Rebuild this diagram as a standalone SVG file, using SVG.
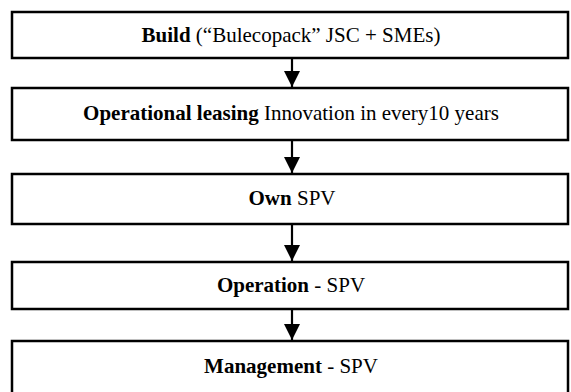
<svg xmlns="http://www.w3.org/2000/svg" width="571" height="392" viewBox="0 0 571 392">
  <style>
    .box { fill: #ffffff; stroke: #000000; stroke-width: 2.5; }
    .lbl { font-family: "Liberation Serif", "Times New Roman", serif; font-size: 21px; fill: #000000; text-anchor: middle; }
    .b { font-weight: bold; }
    .conn { stroke: #000000; stroke-width: 2.2; fill: none; marker-end: url(#arrow); }
  </style>
  <defs>
    <marker id="arrow" markerUnits="userSpaceOnUse" markerWidth="16" markerHeight="16" refX="15" refY="7.5" orient="auto" viewBox="0 0 15 15">
      <path d="M0,0 L15,7.5 L0,15 Z" fill="#000000"/>
    </marker>
  </defs>
  <rect width="571" height="392" fill="#ffffff"/>
  <g id="connectors">
    <line class="conn" x1="292" y1="59" x2="292" y2="87"/>
    <line class="conn" x1="292" y1="141" x2="292" y2="173"/>
    <line class="conn" x1="292" y1="225" x2="292" y2="261"/>
    <line class="conn" x1="292" y1="310" x2="292" y2="340"/>
  </g>
  <g id="build">
    <rect class="box" x="12" y="12" width="556" height="46"/>
    <text class="lbl" x="291" y="42"><tspan class="b">Build</tspan> (“Bulecopack” JSC + SMEs)</text>
  </g>
  <g id="leasing">
    <rect class="box" x="12" y="88" width="556" height="52"/>
    <text class="lbl" x="291" y="120"><tspan class="b">Operational leasing</tspan> Innovation in every10 years</text>
  </g>
  <g id="own">
    <rect class="box" x="12" y="174" width="556" height="50"/>
    <text class="lbl" x="292" y="205"><tspan class="b">Own</tspan> SPV</text>
  </g>
  <g id="operation">
    <rect class="box" x="12" y="262" width="556" height="47"/>
    <text class="lbl" x="291" y="292"><tspan class="b">Operation</tspan> - SPV</text>
  </g>
  <g id="management">
    <rect class="box" x="12" y="341" width="556" height="70"/>
    <text class="lbl" x="291" y="373"><tspan class="b">Management</tspan> - SPV</text>
  </g>
</svg>
